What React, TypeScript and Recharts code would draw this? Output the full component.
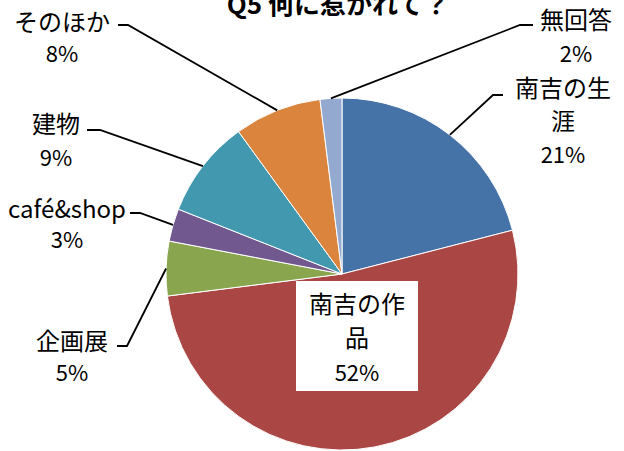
import { PieChart, Pie, Cell } from "recharts";

const categories = ["南吉の生涯", "南吉の作品", "企画展", "café&shop", "建物", "そのほか", "無回答"];
const shares = [21, 52, 5, 3, 9, 8, 2];
const colors = ["#4572A7", "#AA4643", "#89A54E", "#71588F", "#4198AF", "#DB843D", "#93A9CF"];
const title = "Q5 何に惹かれて？";

const data = categories.map((name, i) => ({ name, value: shares[i] }));

// where each label sits: text centre x, first line centre y, leader start + bend
const labelLayout = [
  { tx: 563, ty: 86, step: 33.5, wrap: 4, lx: 503, ly: 95, bx: 493 },
  { tx: 357, ty: 302, step: 34.5, wrap: 4, box: [296, 281, 122, 110] },
  { tx: 72, ty: 339, step: 32, wrap: 0, lx: 117, ly: 346, bx: 127 },
  { tx: 67, ty: 207, step: 31, wrap: 0, lx: 130, ly: 213, bx: 140 },
  { tx: 56, ty: 122, step: 34, wrap: 0, lx: 87, ly: 130, bx: 100 },
  { tx: 62, ty: 20, step: 32, wrap: 0, lx: 118, ly: 25, bx: 128 },
  { tx: 576, ty: 18, step: 34, wrap: 0, lx: 533, ly: 25, bx: 520 },
];

const FONT = "'Noto Sans CJK JP', 'Noto Sans', sans-serif";
const RAD = Math.PI / 180;

function splitName(name: string, wrap: number) {
  if (!wrap || name.length <= wrap) return [name];
  const out: string[] = [];
  for (let i = 0; i < name.length; i += wrap) out.push(name.slice(i, i + wrap));
  return out;
}

function renderLabel(props: any) {
  const { cx, cy, midAngle, outerRadius, index, value } = props;
  const lay: any = labelLayout[index];
  const lines = [...splitName(categories[index], lay.wrap), `${value}%`];
  const ax = cx + outerRadius * Math.cos(-midAngle * RAD);
  const ay = cy + outerRadius * Math.sin(-midAngle * RAD);
  return (
    <g key={`lbl-${index}`}>
      {lay.box && (
        <rect x={lay.box[0]} y={lay.box[1]} width={lay.box[2]} height={lay.box[3]} fill="#fff" />
      )}
      {lay.lx !== undefined && (
        <polyline
          points={`${lay.lx},${lay.ly} ${lay.bx},${lay.ly} ${ax},${ay}`}
          fill="none"
          stroke="#000"
          strokeWidth={1.8}
        />
      )}
      {lines.map((t, k) => (
        <text
          key={k}
          x={lay.tx}
          y={lay.ty + k * lay.step}
          textAnchor="middle"
          dominantBaseline="central"
          fontFamily={FONT}
          fontSize={k === lines.length - 1 ? 22 : 24}
          fill="#000"
        >
          {t}
        </text>
      ))}
    </g>
  );
}

export default function App() {
  return (
    <div style={{ position: "absolute", left: 0, top: 0, background: "#fff" }}>
      <PieChart width={624} height={451} margin={{ top: 0, right: 0, bottom: 0, left: 0 }}>
        <text
          x={338}
          y={14}
          textAnchor="middle"
          fontFamily={FONT}
          fontWeight="bold"
          fontSize={26}
          fill="#000"
        >
          {title}
        </text>
        <Pie
          data={data}
          dataKey="value"
          nameKey="name"
          cx={342}
          cy={274}
          outerRadius={176}
          startAngle={90}
          endAngle={-270}
          stroke="#fff"
          strokeWidth={1}
          label={renderLabel}
          labelLine={false}
          isAnimationActive={false}
        >
          {data.map((d, i) => (
            <Cell key={d.name} fill={colors[i]} />
          ))}
        </Pie>
      </PieChart>
    </div>
  );
}
